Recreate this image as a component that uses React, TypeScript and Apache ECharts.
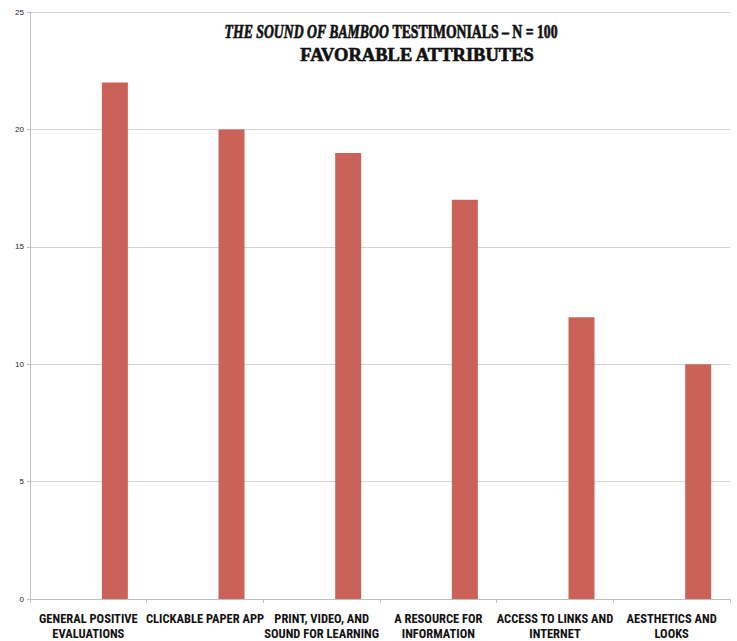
import React, { useEffect, useRef } from "react";
import * as echarts from "echarts";

const categories = [
  "GENERAL POSITIVE\nEVALUATIONS",
  "CLICKABLE PAPER APP",
  "PRINT, VIDEO, AND\nSOUND FOR LEARNING",
  "A RESOURCE FOR\nINFORMATION",
  "ACCESS TO LINKS AND\nINTERNET",
  "AESTHETICS AND\nLOOKS",
];
const counts = [22, 20, 19, 17, 12, 10];
const emptySeries = [null, null, null, null, null, null];
const yTicks = { min: 0, max: 25, interval: 5 };

export default function App() {
  const ref = useRef<HTMLDivElement>(null);
  useEffect(() => {
    if (!ref.current) return;
    const chart = echarts.init(ref.current, null, { renderer: "svg" });
    const titleFont = { fontFamily: "'Liberation Serif', 'DejaVu Serif', serif", fontWeight: "bold", fontSize: 19.5, fill: "#111", stroke: "#111", lineWidth: 0.7 };
    chart.setOption({
      animation: false,
      backgroundColor: "#ffffff",
      grid: { left: 30, right: 7, top: 12, bottom: 41, containLabel: false },
      graphic: [
        {
          type: "text",
          x: 391,
          y: 32,
          scaleX: 0.705,
          style: {
            text: "{i|THE SOUND OF BAMBOO} {b|TESTIMONIALS – N = 100}",
            align: "center",
            verticalAlign: "middle",
            ...titleFont,
            rich: {
              i: { ...titleFont, fontStyle: "italic" },
              b: { ...titleFont },
            },
          },
        },
        {
          type: "text",
          x: 417,
          y: 54,
          scaleX: 0.95,
          style: {
            text: "FAVORABLE ATTRIBUTES",
            align: "center",
            verticalAlign: "middle",
            ...titleFont,
          },
        },
      ],
      xAxis: {
        type: "category",
        data: categories,
        axisLine: { lineStyle: { color: "#bfbfbf", width: 1 } },
        axisTick: { show: true, length: 4, lineStyle: { color: "#bfbfbf" } },
        axisLabel: {
          interval: 0,
          margin: 12,
          fontFamily: "'Liberation Sans Narrow', 'Roboto Condensed', 'DejaVu Sans Condensed', Arial",
          fontWeight: "bold",
          fontSize: 12.5,
          lineHeight: 15,
          color: "#111",
        },
      },
      yAxis: {
        type: "value",
        min: yTicks.min,
        max: yTicks.max,
        interval: yTicks.interval,
        axisLine: { show: true, lineStyle: { color: "#bfbfbf", width: 1 } },
        axisTick: { show: true, length: 3, lineStyle: { color: "#bfbfbf" } },
        splitLine: { lineStyle: { color: "#d3d3d3", width: 1 } },
        axisLabel: { fontFamily: "Liberation Sans", fontSize: 8, color: "#222", margin: 6 },
      },
      series: [
        { type: "bar", data: emptySeries, barWidth: 26, barGap: "104%", itemStyle: { color: "#4f81bd" } },
        { type: "bar", data: counts, barWidth: 26, barGap: "104%", itemStyle: { color: "#CB625A" } },
      ],
    });
    return () => chart.dispose();
  }, []);
  return <div ref={ref} style={{ width: 737, height: 641, position: "absolute", left: 0, top: 0 }} />;
}
